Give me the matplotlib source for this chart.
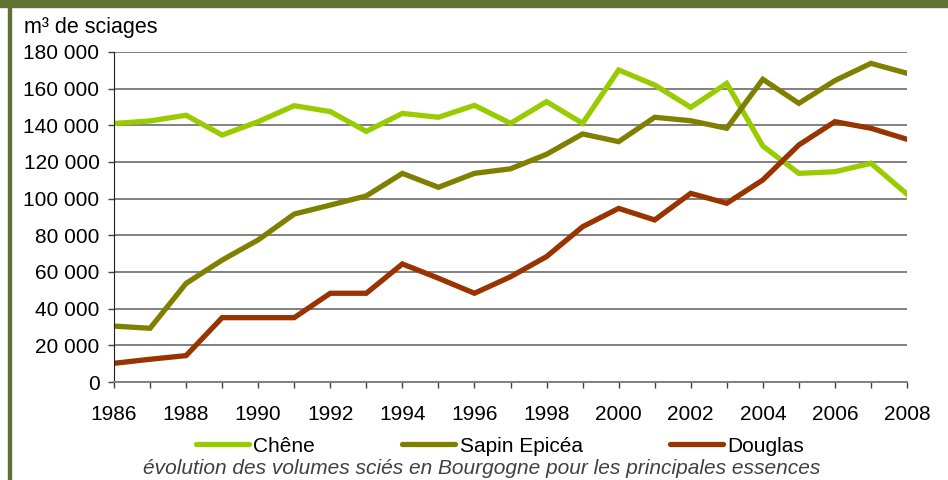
import numpy as np
import matplotlib
matplotlib.use('Agg')
import matplotlib.pyplot as plt
from matplotlib.patches import Rectangle
from matplotlib.lines import Line2D

plt.rcParams['font.family'] = ['Liberation Sans', 'DejaVu Sans']

years = list(range(1986, 2009))
chene = [141000, 142400, 145500, 134700, 142000, 150700, 147500, 136700, 146500, 144400,
         150900, 141100, 152900, 141100, 170200, 162000, 149800, 162900, 128700, 113800,
         114700, 119300, 102500]
sapin = [30500, 29300, 53800, 66500, 77500, 91600, 96500, 101500, 113800, 106200,
         113800, 116300, 124200, 135300, 131100, 144400, 142500, 138400, 165100, 152000,
         164400, 173800, 168400]
douglas = [10200, 12400, 14400, 35100, 35100, 35100, 48400, 48400, 64400, 56600,
           48400, 57400, 68400, 84700, 94700, 88400, 102900, 97500, 110200, 129300,
           142000, 138400, 132400]
series_names = ['Chêne', 'Sapin Epicéa', 'Douglas']
colors = ['#99cc00', '#808000', '#993300']
yticks = list(range(0, 180001, 20000))
caption = 'évolution des volumes sciés en Bourgogne pour les principales essences'

fig = plt.figure(figsize=(9.48, 4.8), dpi=100)
ax = fig.add_axes([114/948, 1-382/480, (907-114)/948, (382-52)/480])

for vals, c, name in zip([chene, sapin, douglas], colors, series_names):
    ax.plot(years, vals, color=c, lw=3.8, label=name, solid_joinstyle='miter')

ax.set_xlim(1986, 2008)
ax.set_ylim(0, 180000)
ax.set_yticks(yticks)
ax.set_yticklabels(['0' if v == 0 else '{:,}'.format(v).replace(',', ' ') for v in yticks])
ax.set_xticks(years)
ax.set_xticklabels([str(y) if y % 2 == 0 else '' for y in years])
ax.tick_params(axis='both', labelsize=15, direction='out', length=4.5, width=1, color='#404040')
ax.tick_params(axis='x', pad=12)
ax.tick_params(axis='y', pad=6)
ax.yaxis.grid(True, color='#808080', lw=1.4)
ax.set_axisbelow(True)
for s in ['top', 'right']:
    ax.spines[s].set_visible(False)
ax.spines['left'].set_color('#202020')
ax.spines['bottom'].set_color('#808080')
ax.spines['bottom'].set_linewidth(1.4)

fig.text(24/948, 1-27/480, 'm³ de sciages', fontsize=15.5, va='center', ha='left')

handles = [Line2D([], [], color=c, lw=3.8, solid_capstyle='round') for c in colors]
fig.legend(handles, series_names, loc='center', bbox_to_anchor=(500/948, 1-446/480),
           ncol=3, frameon=False, fontsize=15, handlelength=2.55, handletextpad=0.2,
           columnspacing=4.2, borderpad=0)

fig.text(482/948, 1-469/480, caption, fontsize=15, style='italic', color='#404040',
         ha='center', va='center')

# border decoration
fig.patches.append(Rectangle((0, 1-7/480), 1, 7/480, transform=fig.transFigure,
                             color='#5f7233', zorder=5))
fig.patches.append(Rectangle((8/948, 0), 3/948, 1, transform=fig.transFigure,
                             color='#5f7233', zorder=5))

fig.savefig('out.png', dpi=100)
